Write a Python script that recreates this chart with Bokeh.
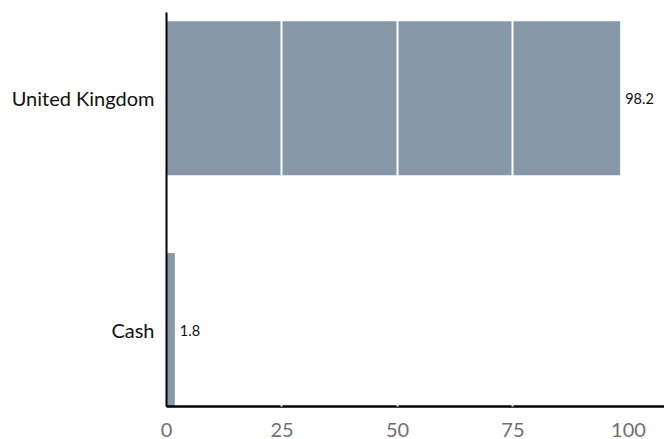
from bokeh.plotting import figure
from bokeh.models import ColumnDataSource, FixedTicker, Range1d
from bokeh.core.properties import value
from bokeh.embed import file_html
from bokeh.resources import INLINE

categories = ["Cash", "United Kingdom"]
values = [1.8, 98.2]
positions = [0, 1]
labels = ["1.8", "98.2"]
x_ticks = [0, 25, 50, 75, 100]

src = ColumnDataSource(dict(y=positions, v=values, lab=labels, cat=categories))

p = figure(width=664, height=439, output_backend="svg", toolbar_location=None,
           x_range=Range1d(0, 107.8), y_range=Range1d(-0.33, 1.37),
           min_border_left=166, min_border_right=0, min_border_top=12, min_border_bottom=0)
p.outline_line_color = None
p.background_fill_color = "white"
p.border_fill_color = "white"

p.hbar(y="y", right="v", left=0, height=0.665, source=src,
       fill_color="#8798a8", line_color=None)
p.text(x="v", y="y", text="lab", source=src, x_offset=5,
       text_align="left", text_baseline="middle",
       text_font=value("Lato"), text_font_size="14.5px", text_color="#111111")

p.xaxis.ticker = FixedTicker(ticks=x_ticks)
p.xaxis.major_tick_line_color = None
p.xaxis.minor_tick_line_color = None
p.xaxis.axis_line_color = "black"
p.xaxis.axis_line_width = 2.5
p.xaxis.major_label_text_font = "Lato"
p.xaxis.major_label_text_font_size = "20px"
p.xaxis.major_label_text_color = "#707070"
p.xaxis.major_label_standoff = 10

p.yaxis.ticker = FixedTicker(ticks=positions)
p.yaxis.major_label_overrides = {pos: c for pos, c in zip(positions, categories)}
p.yaxis.major_tick_line_color = None
p.yaxis.minor_tick_line_color = None
p.yaxis.axis_line_color = "black"
p.yaxis.axis_line_width = 2
p.yaxis.major_label_text_font = "Lato"
p.yaxis.major_label_text_font_size = "20px"
p.yaxis.major_label_text_color = "#111111"
p.yaxis.major_label_standoff = 6

p.ygrid.grid_line_color = None
p.xgrid.ticker = FixedTicker(ticks=[25, 50, 75])
p.xgrid.grid_line_color = "white"
p.xgrid.grid_line_width = 2
p.xgrid.level = "annotation"

open("out.html", "w").write(file_html(p, INLINE))
